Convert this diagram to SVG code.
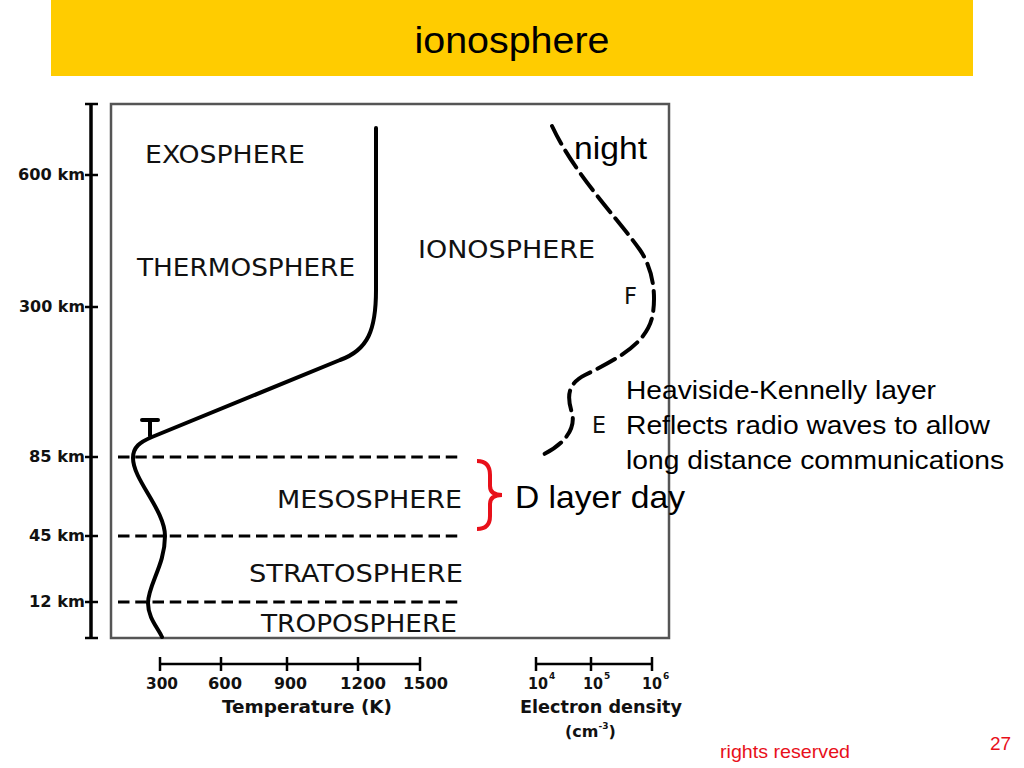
<svg xmlns="http://www.w3.org/2000/svg" width="1024" height="768" viewBox="0 0 1024 768">
<style>
.ax{stroke:#000;stroke-width:3.5;fill:none}
.tk{stroke:#000;stroke-width:2.5;fill:none}
.dash{stroke:#000;stroke-width:2.8;stroke-dasharray:11.5 5.75;fill:none}
.curve{stroke:#000;stroke-width:4;fill:none;stroke-linecap:round;stroke-linejoin:round}
.lay{font-family:"DejaVu Sans",Verdana,sans-serif;fill:#111}
.km{font-family:"DejaVu Sans",Verdana,sans-serif;font-weight:bold;fill:#111}
.sc{font-family:"DejaVu Sans",Verdana,sans-serif;font-weight:bold;fill:#111}
.sl{font-family:"Liberation Sans",Arial,sans-serif;fill:#000}
.red{font-family:"Liberation Sans",Arial,sans-serif;fill:#e8101a}
</style>
<rect x="0" y="0" width="1024" height="768" fill="#fff"/>
<g id="title">
<rect x="51" y="0" width="922" height="76" fill="#FFCC00"/>
<text class="sl" x="512" y="53" font-size="37" text-anchor="middle" textLength="195" lengthAdjust="spacingAndGlyphs">ionosphere</text>
</g>
<g id="altitude-axis">
<line class="ax" x1="91" y1="104" x2="91" y2="638"/>
<line class="tk" x1="85" y1="104" x2="98" y2="104"/>
<line class="tk" x1="85" y1="638" x2="98" y2="638"/>
<line class="tk" x1="85" y1="175" x2="98" y2="175"/>
<line class="tk" x1="85" y1="307" x2="98" y2="307"/>
<line class="tk" x1="85" y1="457" x2="98" y2="457"/>
<line class="tk" x1="85" y1="536" x2="98" y2="536"/>
<line class="tk" x1="85" y1="602" x2="98" y2="602"/>
<text class="km" x="85" y="180" font-size="15" text-anchor="end" textLength="67" lengthAdjust="spacingAndGlyphs">600 km</text>
<text class="km" x="85" y="312" font-size="15" text-anchor="end" textLength="66" lengthAdjust="spacingAndGlyphs">300 km</text>
<text class="km" x="85" y="462" font-size="15" text-anchor="end" textLength="56" lengthAdjust="spacingAndGlyphs">85 km</text>
<text class="km" x="85" y="541" font-size="15" text-anchor="end" textLength="56" lengthAdjust="spacingAndGlyphs">45 km</text>
<text class="km" x="85" y="607" font-size="15" text-anchor="end" textLength="56" lengthAdjust="spacingAndGlyphs">12 km</text>
</g>
<g id="chart-frame">
<rect x="111" y="104" width="558" height="534" fill="none" stroke="#555" stroke-width="2.5"/>
</g>
<g id="layer-boundaries">
<line class="dash" x1="118" y1="457" x2="463" y2="457"/>
<line class="dash" x1="118" y1="536" x2="463" y2="536"/>
<line class="dash" x1="118" y1="602" x2="463" y2="602"/>
</g>
<g id="layer-labels">
<text class="lay" x="145" y="163" font-size="24" textLength="160" lengthAdjust="spacingAndGlyphs">EXOSPHERE</text>
<text class="lay" x="137" y="276" font-size="24" textLength="218" lengthAdjust="spacingAndGlyphs">THERMOSPHERE</text>
<text class="lay" x="418" y="258" font-size="24" textLength="177" lengthAdjust="spacingAndGlyphs">IONOSPHERE</text>
<text class="lay" x="277" y="508" font-size="24" textLength="185" lengthAdjust="spacingAndGlyphs">MESOSPHERE</text>
<text class="lay" x="249" y="582" font-size="24" textLength="214" lengthAdjust="spacingAndGlyphs">STRATOSPHERE</text>
<text class="lay" x="261" y="632" font-size="24" textLength="196" lengthAdjust="spacingAndGlyphs">TROPOSPHERE</text>
<text class="lay" x="624" y="304" font-size="23" textLength="13" lengthAdjust="spacingAndGlyphs">F</text>
<text class="lay" x="592" y="433" font-size="23" textLength="14" lengthAdjust="spacingAndGlyphs">E</text>
</g>
<g id="temperature-curve">
<path class="curve" d="M376,128 L376,290 C376,330 368,350 340,360 L152,437 C140,442 133,447 133,458 C133,480 165,510 165,536 C165,565 148,585 148,603 C148,618 158,628 162,637"/>
<path class="curve" d="M142,420 L158,420 M150,420 L150,436" stroke-linecap="butt"/>
</g>
<g id="electron-density-curve">
<path class="curve" stroke-linecap="butt" stroke-dasharray="20 8" d="M552,126 C575,175 615,215 640,250 C655,272 656,300 652,318 C645,345 615,360 585,375 C565,385 568,400 572,413 C576,428 565,445 540,456"/>
</g>
<g id="d-layer-brace">
<path d="M477,461 Q490,461 490,475 L490,486 Q490,495 502,495 Q490,495 490,504 L490,516 Q490,529 477,529" fill="none" stroke="#e8101a" stroke-width="4"/>
</g>
<g id="annotations">
<text class="sl" x="574" y="159" font-size="32" textLength="73" lengthAdjust="spacingAndGlyphs">night</text>
<text class="sl" x="515" y="508" font-size="32" textLength="170" lengthAdjust="spacingAndGlyphs">D layer day</text>
<text class="sl" x="626" y="399" font-size="26" textLength="310" lengthAdjust="spacingAndGlyphs">Heaviside-Kennelly layer</text>
<text class="sl" x="626" y="434" font-size="26" textLength="364" lengthAdjust="spacingAndGlyphs">Reflects radio waves to allow</text>
<text class="sl" x="626" y="469" font-size="26" textLength="378" lengthAdjust="spacingAndGlyphs">long distance communications</text>
</g>
<g id="temperature-scale">
<line class="tk" x1="160" y1="664" x2="420" y2="664"/>
<line class="tk" x1="160" y1="657" x2="160" y2="671"/>
<line class="tk" x1="221" y1="657" x2="221" y2="671"/>
<line class="tk" x1="287" y1="657" x2="287" y2="671"/>
<line class="tk" x1="358" y1="657" x2="358" y2="671"/>
<line class="tk" x1="420" y1="657" x2="420" y2="671"/>
<text class="sc" x="146" y="689" font-size="16" textLength="32" lengthAdjust="spacingAndGlyphs">300</text>
<text class="sc" x="208" y="689" font-size="16" textLength="34" lengthAdjust="spacingAndGlyphs">600</text>
<text class="sc" x="274" y="689" font-size="16" textLength="33" lengthAdjust="spacingAndGlyphs">900</text>
<text class="sc" x="340" y="689" font-size="16" textLength="46" lengthAdjust="spacingAndGlyphs">1200</text>
<text class="sc" x="403" y="689" font-size="16" textLength="45" lengthAdjust="spacingAndGlyphs">1500</text>
<text class="sc" x="222" y="713" font-size="18" textLength="170" lengthAdjust="spacingAndGlyphs">Temperature (K)</text>
</g>
<g id="density-scale">
<line class="tk" x1="536" y1="664" x2="652" y2="664"/>
<line class="tk" x1="536" y1="657" x2="536" y2="671"/>
<line class="tk" x1="591" y1="657" x2="591" y2="671"/>
<line class="tk" x1="652" y1="657" x2="652" y2="671"/>
<text class="sc" x="528" y="689" font-size="16" textLength="20" lengthAdjust="spacingAndGlyphs">10</text>
<text class="sc" x="549" y="679" font-size="9">4</text>
<text class="sc" x="583" y="689" font-size="16" textLength="20" lengthAdjust="spacingAndGlyphs">10</text>
<text class="sc" x="604" y="679" font-size="9">5</text>
<text class="sc" x="642" y="689" font-size="16" textLength="20" lengthAdjust="spacingAndGlyphs">10</text>
<text class="sc" x="663" y="679" font-size="9">6</text>
<text class="sc" x="520" y="713" font-size="18" textLength="162" lengthAdjust="spacingAndGlyphs">Electron density</text>
<text class="sc" x="565" y="737" font-size="16">(cm<tspan dy="-8" font-size="9">-3</tspan><tspan dy="8">)</tspan></text>
</g>
<g id="footer">
<text class="red" x="720" y="758" font-size="19" textLength="130" lengthAdjust="spacingAndGlyphs">rights reserved</text>
<text class="red" x="990" y="750" font-size="19">27</text>
</g>
</svg>
